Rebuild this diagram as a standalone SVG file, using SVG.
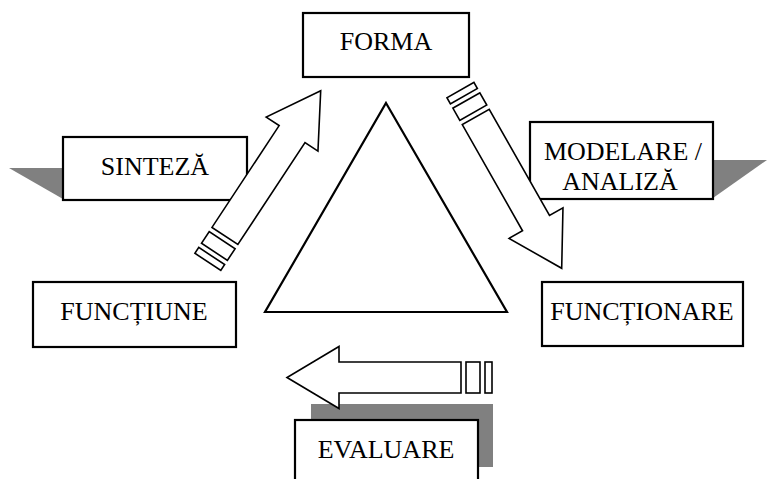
<svg xmlns="http://www.w3.org/2000/svg" xmlns:xlink="http://www.w3.org/1999/xlink" width="768" height="479" viewBox="0 0 768 479">
<style>
.box{fill:#fff;stroke:#000;stroke-width:2.2}
.shadow{fill:#808080;stroke:none}
.lbl{font-family:"Liberation Serif","Times New Roman",serif;font-size:26px;fill:#000;text-anchor:middle}
.arr{fill:#fff;stroke:#000;stroke-width:1.6;stroke-linejoin:miter}
.tri{fill:#fff;stroke:#000;stroke-width:2.2;stroke-linejoin:miter}
</style>
<defs>
<g id="bigArrow">
<polygon class="arr" points="0,0 -52,-31 -52,-15.5 -174,-15.5 -174,15.5 -52,15.5 -52,31"/>
<rect class="arr" x="-193" y="-15.5" width="14" height="31"/>
<rect class="arr" x="-205" y="-15.5" width="7" height="31"/>
</g>
</defs>
<rect width="768" height="479" fill="#fff"/>
<g id="triangle">
<polygon class="tri" points="386,103 507,312 265,312"/>
</g>
<g id="forma">
<rect class="box" x="303" y="13" width="166" height="64"/>
<text class="lbl" x="386" y="50">FORMA</text>
</g>
<g id="sinteza">
<polygon class="shadow" points="9,168 63,168 63,199"/>
<rect class="box" x="63" y="137" width="184" height="63"/>
<text class="lbl" x="155" y="175">SINTEZĂ</text>
</g>
<g id="modelare">
<polygon class="shadow" points="713,160 767,160 713,198"/>
<rect class="box" x="530" y="122" width="183" height="77"/>
<text class="lbl" x="623" y="160">MODELARE /</text>
<text class="lbl" x="620" y="190">ANALIZĂ</text>
</g>
<g id="functiune">
<rect class="box" x="33" y="282" width="203" height="65"/>
<text class="lbl" x="134" y="320">FUNCȚIUNE</text>
</g>
<g id="functionare">
<rect class="box" x="542" y="282" width="201" height="64"/>
<text class="lbl" x="642" y="320">FUNCȚIONARE</text>
</g>
<g id="evaluare">
<rect class="shadow" x="311" y="404" width="182" height="63"/>
<rect class="box" x="295" y="420" width="183" height="70"/>
<text class="lbl" x="386" y="458">EVALUARE</text>
</g>
<g id="connectors">
<use xlink:href="#bigArrow" transform="translate(320.7,90.7) rotate(-56.6)"/>
<use xlink:href="#bigArrow" transform="translate(561.7,268.3) rotate(60.4)"/>
<use xlink:href="#bigArrow" transform="translate(287,377.5) rotate(180)"/>
</g>
</svg>
